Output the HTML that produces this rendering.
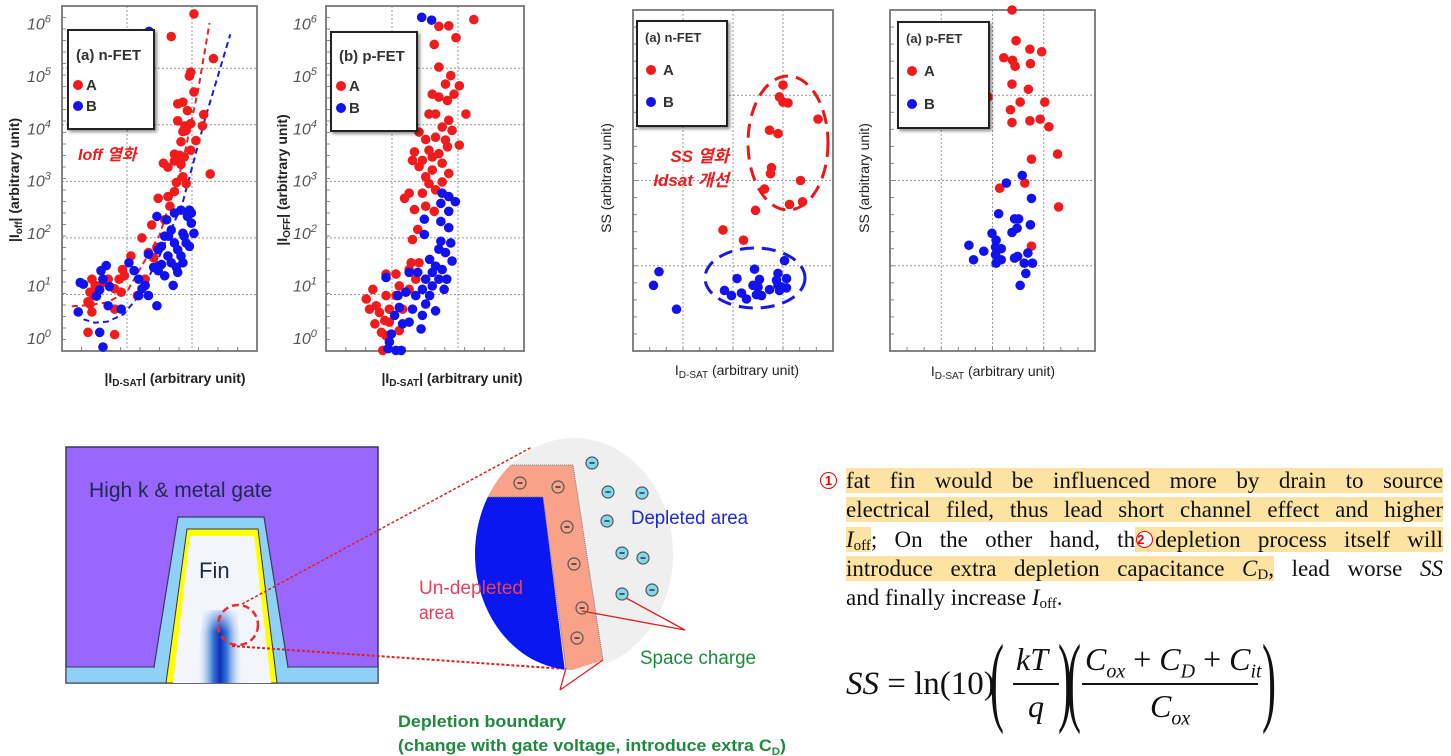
<!DOCTYPE html>
<html><head><meta charset="utf-8">
<style>
html,body{margin:0;padding:0;background:#fff;}
body{width:1451px;height:756px;position:relative;overflow:hidden;font-family:"Liberation Sans","Noto Sans CJK KR",sans-serif;}
svg{position:absolute;left:0;top:0;}
.txt{position:absolute;left:846px;top:466px;width:597px;font-family:"Liberation Serif",serif;font-size:23px;line-height:29.3px;color:#111;}
.ln{height:29.3px;white-space:nowrap;text-align:justify;text-align-last:justify;}
.ln.last{text-align-last:left;}
.hl{background:#fde3a2;}
.sub{font-size:15px;vertical-align:-3px;line-height:0;}
.circ{position:absolute;width:17px;height:17px;border:1.5px solid #e00;border-radius:50%;color:#e00;font-family:"Liberation Sans",sans-serif;font-size:13px;line-height:15px;text-align:center;font-weight:bold;box-sizing:border-box;background:#fff;}
.f{position:absolute;font-family:"Liberation Serif",serif;color:#111;white-space:nowrap;}
.par{position:absolute;font-family:"Liberation Serif",serif;color:#111;font-size:100px;line-height:100px;transform:scaleX(0.42);transform-origin:left top;font-weight:normal;}
</style></head>
<body>
<svg id="svg" width="1451" height="756" viewBox="0 0 1451 756" xmlns="http://www.w3.org/2000/svg">
<defs>
<filter id="sh" x="-10%" y="-10%" width="130%" height="130%"><feDropShadow dx="2" dy="2" stdDeviation="1.5" flood-color="#000" flood-opacity="0.45"/></filter>
<linearGradient id="fing" x1="0" x2="1" y1="0" y2="0">
<stop offset="0" stop-color="#fff" stop-opacity="0"/><stop offset="0.35" stop-color="#3b7ad8"/><stop offset="0.5" stop-color="#0a2fb8"/><stop offset="0.65" stop-color="#3b7ad8"/><stop offset="1" stop-color="#fff" stop-opacity="0"/></linearGradient>
<linearGradient id="finv" x1="0" x2="0" y1="0" y2="1"><stop offset="0" stop-color="#f2f6fb" stop-opacity="1"/><stop offset="1" stop-color="#f2f6fb" stop-opacity="0"/></linearGradient>
<clipPath id="cc"><ellipse cx="574" cy="554" rx="99" ry="116"/></clipPath>
</defs>
<g id="charts"></g>

<g>
<rect x="66" y="447" width="312" height="236" fill="#9966ff" stroke="#3a3a5a" stroke-width="1.5"/>
<rect x="66" y="667" width="312" height="16" fill="#8fd0f7" stroke="#3a3a5a" stroke-width="1"/>
<polygon points="178,517 264,517 288,667 154,667" fill="#8fd0f7" stroke="#3a3a5a" stroke-width="1.2"/>
<rect x="155" y="664" width="132" height="6" fill="#8fd0f7"/>
<polygon points="187,529 258,529 277,683 166,683" fill="#ffff00" stroke="#333" stroke-width="1"/>
<polygon points="190,536 254,536 271,683 173,683" fill="#f2f6fb"/>
<polygon points="203,610 237,610 244,683 196,683" fill="url(#fing)"/>
<rect x="196" y="606" width="50" height="26" fill="url(#finv)"/>
<text x="89" y="497" font-size="21" fill="#1f2a4a" font-family="Liberation Sans">High k &amp; metal gate</text>
<text x="199" y="578" font-size="22" fill="#1f2a4a" font-family="Liberation Sans">Fin</text>
<circle cx="238" cy="625" r="20" fill="none" stroke="#e03030" stroke-width="2.5" stroke-dasharray="7,4"/>
<line x1="242" y1="604" x2="532" y2="447" stroke="#e02020" stroke-width="1.5" stroke-dasharray="3,2"/>
<line x1="232" y1="646" x2="566" y2="669" stroke="#e02020" stroke-width="2" stroke-dasharray="3,2"/>
</g>
<g>
<ellipse cx="574" cy="554" rx="99" ry="116" fill="#efefef"/>
<g clip-path="url(#cc)">
<polygon points="440,465 573,465 603,660 566,672 543,497 440,497" fill="#f9a28a"/>
<polygon points="440,497 543,497 566,680 440,680" fill="#0a17ee"/>
<polyline points="510,465 573,465 603,660" fill="none" stroke="#777" stroke-width="1" stroke-dasharray="1,1"/>
<polyline points="470,497 543,497 566,668" fill="none" stroke="#777" stroke-width="1" stroke-dasharray="1,1"/>
</g>
<g id="charges"></g>
<line x1="582" y1="611" x2="685" y2="630" stroke="#e02020" stroke-width="1.3"/>
<line x1="626" y1="598" x2="685" y2="630" stroke="#e02020" stroke-width="1.3"/>
<line x1="566" y1="668" x2="560" y2="690" stroke="#e02020" stroke-width="1.3"/>
<line x1="603" y1="660" x2="560" y2="690" stroke="#e02020" stroke-width="1.3"/>
<text x="631" y="524" font-size="19" fill="#1a2bd6" font-family="Liberation Sans" textLength="117" lengthAdjust="spacingAndGlyphs">Depleted area</text>
<text x="419" y="594" font-size="19" fill="#e8405a" font-family="Liberation Sans" textLength="104" lengthAdjust="spacingAndGlyphs">Un-depleted</text>
<text x="419" y="619" font-size="19" fill="#e8405a" font-family="Liberation Sans" textLength="35" lengthAdjust="spacingAndGlyphs">area</text>
<text x="640" y="664" font-size="19" fill="#1e8a3e" font-family="Liberation Sans" textLength="116" lengthAdjust="spacingAndGlyphs">Space charge</text>
<text x="398" y="727" font-size="17" fill="#1e8a3e" font-family="Liberation Sans" font-weight="bold" textLength="168" lengthAdjust="spacingAndGlyphs">Depletion boundary</text>
<text x="398" y="751" font-size="17" fill="#1e8a3e" font-family="Liberation Sans" font-weight="bold" textLength="388" lengthAdjust="spacingAndGlyphs">(change with gate voltage, introduce extra C<tspan font-size="11" dy="4">D</tspan><tspan dy="-4">)</tspan></text>
</g>
</svg>

<div class="circ" style="left:820px;top:472px;">1</div>
<div class="txt">
<div class="ln"><span class="hl">fat fin would be influenced more by drain to source</span></div>
<div class="ln"><span class="hl">electrical filed, thus lead short channel effect and higher</span></div>
<div class="ln"><span class="hl"><i>I</i><span class="sub">off</span></span>; On the other hand, th<span class="hl"><span style="display:inline-block;width:20px;height:18px;position:relative;vertical-align:-2px;"><span class="circ" style="left:1px;top:0;">2</span></span>depletion process itself will</span></div>
<div class="ln"><span class="hl">introduce extra depletion capacitance <i>C</i><span class="sub">D</span>,</span> lead worse <i>SS</i></div>
<div class="ln last">and finally increase <i>I</i><span class="sub">off</span>.</div>
</div>

<div>
<div class="f" style="left:846px;top:666px;font-size:33px;"><i>SS</i> = ln(10)</div>
<div class="par" style="left:990px;top:630px;">(</div>
<div class="f" style="left:1016px;top:641px;font-size:32px;"><i>kT</i></div>
<div style="position:absolute;left:1013px;top:683px;width:46px;height:1.5px;background:#111;"></div>
<div class="f" style="left:1028px;top:688px;font-size:32px;"><i>q</i></div>
<div class="par" style="left:1058px;top:630px;">)</div>
<div class="par" style="left:1067px;top:630px;">(</div>
<div class="f" style="left:1085px;top:641px;font-size:32px;"><i>C</i><sub style="font-size:20px;"><i>ox</i></sub> + <i>C</i><sub style="font-size:20px;"><i>D</i></sub> + <i>C</i><sub style="font-size:20px;"><i>it</i></sub></div>
<div style="position:absolute;left:1082px;top:683px;width:176px;height:1.5px;background:#111;"></div>
<div class="f" style="left:1150px;top:688px;font-size:32px;"><i>C</i><sub style="font-size:20px;"><i>ox</i></sub></div>
<div class="par" style="left:1262px;top:630px;">)</div>
</div>

<script>
// ---------- chart data (Ioff: x in arbitrary Idsat units 0..3, y = log10 Ioff) ----------
const c1RedX=[2.03,1.34,1.68,2.33,1.98,1.96,2.03,1.78,1.86,1.93,2.18,1.78,1.89,1.98,2.16,1.86,1.91,2.06,1.83,1.98,1.73,1.81,1.88,1.56,1.63,1.73,1.83,2.28,1.86,1.76,1.91,1.63,1.48,1.73,1.66,1.38,1.58,1.23,1.33,1.41,1.46,1.06,0.93,0.96,0.88,0.81,0.91,1.16,1.28,0.46,0.51,0.43,0.48,0.40,0.56,0.63,0.71,0.46,0.43,0.81,0.40,0.81];
const c1RedY=[5.96,5.63,5.56,5.17,4.93,4.86,4.58,4.37,4.40,4.25,4.18,4.07,3.98,4.02,3.98,3.88,3.90,3.72,3.70,3.55,3.48,3.46,3.43,3.32,3.25,3.36,3.30,3.13,3.08,2.98,2.96,2.73,2.70,2.82,2.56,2.23,2.32,2.00,1.74,1.65,1.83,1.68,1.44,1.33,1.27,1.10,1.04,0.98,1.27,1.27,1.16,1.04,0.98,0.87,1.10,1.21,1.27,0.69,0.83,0.74,0.33,0.29];
const c1BlueX=[1.34,0.28,0.25,0.33,0.60,0.68,0.73,0.58,0.53,0.63,0.71,0.91,0.58,0.63,1.03,1.11,1.18,1.28,1.33,1.46,1.48,1.53,1.33,1.41,1.46,1.61,1.64,1.68,1.73,1.78,1.83,1.86,1.63,1.71,1.78,1.86,1.93,1.99,2.03,1.91,1.96,1.58,1.53,1.48,1.73,1.83,1.88,1.99,1.96,1.68,1.58,1.76,1.23,1.18];
const c1BlueY=[5.65,1.21,0.69,1.18,1.42,1.51,1.14,1.08,0.97,1.27,0.80,0.74,0.33,0.07,1.56,1.42,1.27,1.16,0.98,0.80,1.42,1.53,1.71,1.48,2.38,2.32,2.03,2.14,1.91,1.79,1.68,1.56,1.68,1.16,1.39,2.08,2.38,2.26,2.08,1.91,1.85,2.03,1.85,1.79,2.44,2.49,2.03,2.44,2.49,1.56,1.33,1.48,1.10,0.98];
const c2RedX=[1.71,1.86,2.24,1.97,1.64,1.71,1.89,1.81,2.02,1.61,1.71,1.84,1.94,1.66,1.56,2.12,1.86,1.76,1.91,1.66,1.81,1.51,1.41,1.56,1.71,1.84,2.02,1.34,1.46,1.61,1.76,1.31,1.41,1.61,1.86,1.76,1.56,1.51,1.66,1.46,1.26,1.19,1.34,1.51,1.64,1.39,1.31,1.29,1.41,1.26,1.36,1.26,1.06,1.11,0.91,1.06,0.91,0.71,0.61,0.76,0.66,0.81,0.96,0.89,0.74,0.96,0.84,0.91,1.11,0.86,1.16];
const c2RedY=[5.74,5.75,5.86,5.54,5.42,5.02,4.87,4.72,4.69,4.54,4.49,4.43,4.54,4.19,4.19,4.19,4.08,3.96,3.90,3.78,3.73,3.74,3.87,3.55,3.49,3.61,3.64,3.52,3.37,3.43,3.32,3.37,3.26,3.20,3.14,2.99,2.96,3.08,2.85,2.79,2.79,2.70,2.50,2.56,2.47,2.15,1.97,1.56,1.56,1.44,1.27,1.09,1.36,1.15,1.36,0.98,0.98,1.09,0.92,0.80,0.74,0.68,0.74,0.54,0.48,0.51,0.33,0.27,0.36,0.01,0.74];
const c2BlueX=[1.45,1.60,1.76,1.86,1.96,1.74,1.49,1.86,1.74,1.86,1.49,1.74,1.89,1.71,1.81,1.91,1.57,1.66,1.76,1.61,1.83,1.71,1.51,1.39,1.26,1.79,1.61,1.46,1.57,1.36,1.21,1.51,1.66,1.31,1.46,1.26,1.44,1.11,1.04,1.16,0.91,1.09,0.99,0.96,1.06,1.14,0.94];
const c2BlueY=[5.90,5.85,2.79,2.73,2.64,2.61,2.33,2.47,2.29,2.18,2.06,1.94,1.91,1.80,1.74,1.59,1.62,1.50,1.44,1.39,1.27,1.27,1.27,1.39,1.39,1.09,1.15,1.09,0.98,0.98,1.04,0.83,0.71,0.74,0.63,0.51,0.39,0.77,0.63,0.48,1.30,0.98,0.30,0.16,0.01,0.01,0.04];
// ---------- SS charts: x = Idsat (0..4), y = SS (0..4) ----------
const c3RedX=[3.00,2.93,3.00,3.10,3.70,2.73,2.90,2.77,2.75,3.35,2.63,3.13,3.39,2.45,1.80,2.21];
const c3RedY=[3.12,2.98,2.92,2.91,2.72,2.59,2.55,2.15,2.08,2.00,1.90,1.72,1.75,1.65,1.42,1.30];
const c3BlueX=[0.52,0.41,0.87,3.03,2.43,2.08,2.53,2.40,1.83,1.97,2.17,2.27,2.47,2.57,2.73,2.87,2.90,3.07,2.97,2.93,3.07,2.90,2.50];
const c3BlueY=[0.93,0.77,0.49,1.06,0.96,0.85,0.84,0.77,0.71,0.65,0.68,0.61,0.66,0.65,0.72,0.83,0.91,0.85,0.75,0.71,0.74,0.77,0.75];
const c4RedX=[2.38,2.46,2.73,2.96,2.22,2.39,2.44,2.74,2.38,2.70,1.91,2.54,3.02,2.35,2.38,2.73,2.93,3.10,3.27,2.76,2.63,2.14,3.29,2.76];
const c4RedY=[4.00,3.64,3.54,3.51,3.44,3.41,3.34,3.37,3.13,3.07,2.98,2.92,2.92,2.83,2.68,2.70,2.72,2.63,2.31,2.25,1.97,1.91,1.69,1.23];
const c4BlueX=[2.58,2.27,2.76,2.12,2.43,2.51,2.48,2.38,2.74,1.99,2.07,2.17,2.06,1.54,1.83,1.63,2.06,2.17,2.07,2.43,2.49,2.69,2.78,2.62,2.65,2.54];
const c4BlueY=[2.06,1.97,1.79,1.61,1.55,1.55,1.44,1.39,1.48,1.38,1.30,1.20,1.22,1.24,1.17,1.07,1.13,1.07,1.03,1.09,1.11,1.15,1.03,1.03,0.91,0.77];
const logTicks=["0","1","2","3","4","5","6"];
const fitRedX=[0.15,0.4,0.7,1.0,1.5,1.85,2.1,2.27];
const fitRedY=[0.79,0.81,0.86,1.05,2.05,3.3,4.65,5.8];
const fitBlueX=[0.33,0.5,0.7,0.95,1.2,1.5,1.85,2.2,2.59];
const fitBlueY=[0.56,0.50,0.52,0.65,1.0,1.68,2.6,4.1,5.6];
const negX=[520,558,567,574,582,577];
const negY=[483,487,527,564,608,638];
const depX=[592,608,642,607,622,643,622,652];
const depY=[463,492,493,521,553,558,594,590];

const NS="http://www.w3.org/2000/svg";
const root=document.getElementById('charts');
function el(tag,attrs,parent){const e=document.createElementNS(NS,tag);for(const k in attrs)e.setAttribute(k,attrs[k]);(parent||root).appendChild(e);return e;}

function makeChart(cfg){
  const g=el('g',{});
  
  
  const xs=u=>cfg.x0+u*(cfg.x1-cfg.x0)/cfg.xmax;
  const ys=v=>cfg.y1-v*(cfg.y1-cfg.y0)/cfg.ymax;
  el('rect',{x:cfg.x0,y:cfg.y0,width:cfg.x1-cfg.x0,height:cfg.y1-cfg.y0,fill:'#fff'},g);
  for(const gx of cfg.gridX){const l=el('line',{x1:xs(gx),x2:xs(gx),y1:cfg.y0,y2:cfg.y1,stroke:'#999','stroke-width':1,'stroke-dasharray':'2,2'},g);
    }
  for(const gy of cfg.gridY){const l=el('line',{x1:cfg.x0,x2:cfg.x1,y1:ys(gy),y2:ys(gy),stroke:'#999','stroke-width':1,'stroke-dasharray':'2,2'},g);
    }
  for(let i=1;i<cfg.minorY;i++){const yy=cfg.y0+i*(cfg.y1-cfg.y0)/cfg.minorY;el('line',{x1:cfg.x0,x2:cfg.x0+4,y1:yy,y2:yy,stroke:'#888','stroke-width':1},g);}
  for(let i=1;i<cfg.minorX;i++){const xx=cfg.x0+i*(cfg.x1-cfg.x0)/cfg.minorX;el('line',{x1:xx,x2:xx,y1:cfg.y1,y2:cfg.y1-4,stroke:'#888','stroke-width':1},g);}
  const b=el('rect',{x:cfg.x0,y:cfg.y0,width:cfg.x1-cfg.x0,height:cfg.y1-cfg.y0,fill:'none',stroke:'#777','stroke-width':1.8},g);
  
  if(cfg.logLabels){
    logTicks.forEach((t,i)=>{const v=+t;const ty=cfg.y1-12-v*(cfg.y1-cfg.y0-20)/6.2;
      const tx=el('text',{x:cfg.tickX,y:ty+5,'font-size':16,'font-style':'italic',fill:'#555','font-family':'Liberation Sans'},g);
      
      tx.textContent='10';const s=el('tspan',{'font-size':11,dy:-7},tx);s.textContent=t;});
  }
  if(cfg.extra)cfg.extra(g,xs,ys);
  const pts=el('g',{},g);
  
  cfg.redX.forEach((u,i)=>{const c=el('circle',{cx:xs(u),cy:ys(cfg.redY[i]),r:4.8,fill:'#f21b1b'},pts);
    });
  cfg.blueX.forEach((u,i)=>{const c=el('circle',{cx:xs(u),cy:ys(cfg.blueY[i]),r:4.8,fill:'#1212ee'},pts);
    });
  if(cfg.after)cfg.after(g,xs,ys);
  const L=cfg.leg;
  const lg=el('g',{},g);
  
  el('rect',{x:L.x,y:L.y,width:L.w,height:L.h,fill:'#fff',stroke:'#222','stroke-width':2,filter:'url(#sh)'},lg);
  const tt=el('text',{x:L.x+8,y:L.ty,'font-size':L.fs,'font-weight':'bold',fill:'#333','font-family':'Liberation Sans'},lg);
  
  tt.textContent=cfg.title;
  const ea=el('circle',{cx:L.x+L.dx,cy:L.ay,r:5,fill:'#f21b1b'},lg);
  
  const ta=el('text',{x:L.x+L.dx+L.tx,y:L.ay+5,'font-size':15,'font-weight':'bold',fill:'#333','font-family':'Liberation Sans'},lg);ta.textContent='A';
  const eb=el('circle',{cx:L.x+L.dx,cy:L.by,r:5,fill:'#1212ee'},lg);
  
  const tb=el('text',{x:L.x+L.dx+L.tx,y:L.by+5,'font-size':15,'font-weight':'bold',fill:'#333','font-family':'Liberation Sans'},lg);tb.textContent='B';
  const yt=el('text',{transform:`translate(${cfg.ylx},${cfg.yly}) rotate(-90)`,'text-anchor':'middle','font-size':cfg.afs,'font-weight':cfg.aw,fill:'#222','font-family':'Liberation Sans'},g);
  
  yt.innerHTML=cfg.ylab;
  const xt=el('text',{x:cfg.xlx,y:cfg.xly,'text-anchor':'middle','font-size':cfg.afs,'font-weight':cfg.aw,fill:'#222','font-family':'Liberation Sans'},g);
  
  xt.innerHTML=cfg.xlab;
}
const sub=t=>`<tspan font-size="10" dy="3">${t}</tspan><tspan dy="-3">`;
function fitPath(g,xs,ys,X,Y,col,name){let d='';X.forEach((u,i)=>{d+=(i?'L':'M')+xs(u).toFixed(1)+','+ys(Y[i]).toFixed(1);});
  const p=el('path',{d:d,fill:'none',stroke:col,'stroke-width':2,'stroke-dasharray':'6,4'},g);
  }

makeChart({name:'chart-ioff-nfet',x0:62,x1:257,y0:6,y1:351,xmax:3,ymax:6.1,gridX:[1,2],gridY:[1,2,3,4,5],minorY:30,minorX:10,
  logLabels:true,tickX:27,redX:c1RedX,redY:c1RedY,blueX:c1BlueX,blueY:c1BlueY,title:'(a) n-FET',
  leg:{x:68,y:30,w:86,h:99,ty:60,fs:15,dx:10,ay:85,by:106,tx:8},
  extra:(g,xs,ys)=>{fitPath(g,xs,ys,fitRedX,fitRedY,'#f02020','fit-curve-a');fitPath(g,xs,ys,fitBlueX,fitBlueY,'#1a1ae0','fit-curve-b');},
  after:(g)=>{const t=el('text',{x:78,y:160,'font-size':16,'font-weight':'bold','font-style':'italic',fill:'#f21b1b'},g);
    t.textContent='Ioff 열화';},
  ylx:19,yly:180,xlx:175,xly:383,afs:14,aw:'bold',
  ylab:'|I'+sub('off')+'| (arbitrary unit)</tspan>',xlab:'|I'+sub('D-SAT')+'| (arbitrary unit)</tspan>'});
makeChart({name:'chart-ioff-pfet',x0:326,x1:524,y0:6,y1:351,xmax:3,ymax:6.1,gridX:[1,2],gridY:[1,2,3,4,5],minorY:30,minorX:10,
  logLabels:true,tickX:293,redX:c2RedX,redY:c2RedY,blueX:c2BlueX,blueY:c2BlueY,title:'(b) p-FET',
  leg:{x:331,y:32,w:86,h:99,ty:61,fs:15,dx:10,ay:86,by:108,tx:8},
  ylx:287,yly:180,xlx:452,xly:383,afs:14,aw:'bold',
  ylab:'|I'+sub('OFF')+'| (arbitrary unit)</tspan>',xlab:'|I'+sub('D-SAT')+'| (arbitrary unit)</tspan>'});
makeChart({name:'chart-ss-nfet',x0:633,x1:833,y0:10,y1:351,xmax:4,ymax:4,gridX:[1,2,3],gridY:[1,2,3],minorY:20,minorX:12,
  logLabels:false,redX:c3RedX,redY:c3RedY,blueX:c3BlueX,blueY:c3BlueY,title:'(a) n-FET',
  leg:{x:637,y:21,w:90,h:105,ty:42,fs:13,dx:14,ay:70,by:102,tx:12},
  after:(g)=>{
    const e1=el('ellipse',{cx:788,cy:143,rx:40,ry:67,fill:'none',stroke:'#e81818','stroke-width':3,'stroke-dasharray':'14,8'},g);
    
    const e2=el('ellipse',{cx:755,cy:278,rx:50,ry:30,fill:'none',stroke:'#1818e8','stroke-width':3,'stroke-dasharray':'14,8'},g);
    
    const t1=el('text',{x:729,y:162,'text-anchor':'end','font-size':17,'font-weight':'bold','font-style':'italic',fill:'#f21b1b'},g);
    t1.textContent='SS 열화';
    const t2=el('text',{x:729,y:186,'text-anchor':'end','font-size':17,'font-weight':'bold','font-style':'italic',fill:'#f21b1b'},g);
    t2.textContent='Idsat 개선';},
  ylx:611,yly:178,xlx:737,xly:375,afs:14,aw:'normal',
  ylab:'SS (arbitrary unit)',xlab:'I'+sub('D-SAT')+' (arbitrary unit)</tspan>'});
makeChart({name:'chart-ss-pfet',x0:890,x1:1095,y0:10,y1:351,xmax:4,ymax:4,gridX:[1,2,3],gridY:[1,2,3],minorY:20,minorX:12,
  logLabels:false,redX:c4RedX,redY:c4RedY,blueX:c4BlueX,blueY:c4BlueY,title:'(a) p-FET',
  leg:{x:898,y:22,w:91,h:106,ty:43,fs:13,dx:14,ay:71,by:104,tx:12},
  ylx:869,yly:178,xlx:993,xly:376,afs:14,aw:'normal',
  ylab:'SS (arbitrary unit)',xlab:'I'+sub('D-SAT')+' (arbitrary unit)</tspan>'});

const cg=document.getElementById('charges');
negX.forEach((x,i)=>{const c=el('circle',{cx:x,cy:negY[i],r:6,fill:'#f9a28a',stroke:'#555','stroke-width':1.2},cg);
  
  el('line',{x1:x-2.5,x2:x+2.5,y1:negY[i],y2:negY[i],stroke:'#333','stroke-width':1.5},cg);});
depX.forEach((x,i)=>{const c=el('circle',{cx:x,cy:depY[i],r:6,fill:'#7fd8f0',stroke:'#555','stroke-width':1.2},cg);
  
  el('line',{x1:x-2.5,x2:x+2.5,y1:depY[i],y2:depY[i],stroke:'#333','stroke-width':1.5},cg);});
</script>
</body></html>
